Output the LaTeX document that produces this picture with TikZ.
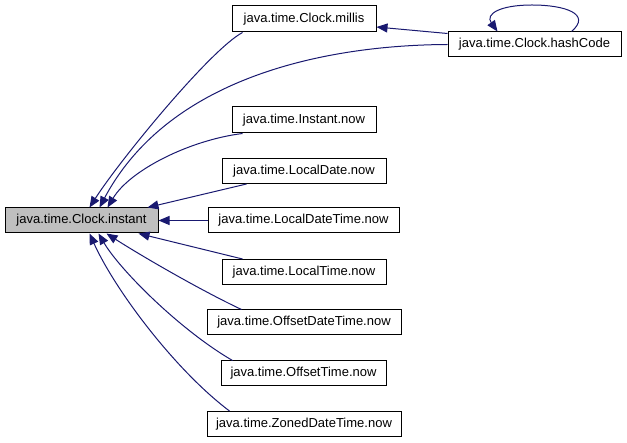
\documentclass[tikz,border=0pt]{standalone}
\usepackage{fontspec}
\setmainfont{Liberation Sans}
\usetikzlibrary{arrows.meta,calc}
\definecolor{edgeblue}{HTML}{191970}
\definecolor{mainfill}{HTML}{BFBFBF}
\begin{document}
\begin{tikzpicture}[x=1pt,y=-1pt,
  box/.style={draw=black,line width=1pt,fill=white,inner sep=0pt,minimum height=25pt,font=\fontsize{13}{15}\selectfont},
  mainbox/.style={box,fill=mainfill},
  edge/.style={draw=edgeblue,line width=1pt,-{Triangle[length=11pt,width=9pt]}}]
\useasboundingbox (0,0) rectangle (627,443);
\node[mainbox,minimum width=153pt] (instant) at (81.5,220.5) {java.time.Clock.instant};
\node[box,minimum width=144pt,minimum height=26pt] (millis) at (304,19) {java.time.Clock.millis};
\node[box,minimum width=173pt] (hash) at (534.5,44.5) {java.time.Clock.hashCode};
\node[box,minimum width=144pt,minimum height=26pt] (inow) at (304,120) {java.time.Instant.now};
\node[box,minimum width=164pt] (ldnow) at (304,171) {java.time.LocalDate.now};
\node[box,minimum width=191pt] (ldtnow) at (303.5,220.5) {java.time.LocalDateTime.now};
\node[box,minimum width=164pt] (ltnow) at (304,272) {java.time.LocalTime.now};
\node[box,minimum width=194pt] (odtnow) at (304,322.5) {java.time.OffsetDateTime.now};
\node[box,minimum width=165pt] (otnow) at (303.5,373.5) {java.time.OffsetTime.now};
\node[box,minimum width=194pt] (zdtnow) at (304,424) {java.time.ZonedDateTime.now};
% edges
\draw[edge] ($(millis.south west)+(11,0)$) .. controls (210,50) and (120,160) .. ($(instant.north west)+(85,0)$);
\draw[edge] (hash.west) .. controls (330,45) and (170,75) .. ($(instant.north west)+(95,0)$);
\draw[edge] ($(inow.south west)+(11,0)$) .. controls (190,140) and (130,170) .. ($(instant.north west)+(103,0)$);
\draw[edge] ($(ldnow.south west)+(25,0)$) -- ($(instant.north west)+(143,0)$);
\draw[edge] (ldtnow.west) -- (instant.east);
\draw[edge] ($(ltnow.north west)+(21,0)$) -- ($(instant.south west)+(134,0)$);
\draw[edge] ($(odtnow.north west)+(35,0)$) .. controls (200,290) and (140,255) .. ($(instant.south west)+(102,0)$);
\draw[edge] ($(otnow.north west)+(12,0)$) .. controls (180,330) and (120,270) .. ($(instant.south west)+(94,0)$);
\draw[edge] ($(zdtnow.north west)+(23,0)$) .. controls (175,370) and (115,290) .. ($(instant.south west)+(85,0)$);
\draw[edge] ($(hash.north west)+(0,2)$) -- (millis.east |- 0,27);
\draw[edge] ($(hash.north west)+(124,0)$) .. controls (592,14) and (565,5) .. (532,5) .. controls (500,5) and (485,14) .. ($(hash.north west)+(50,0)$);
\end{tikzpicture}
\end{document}
